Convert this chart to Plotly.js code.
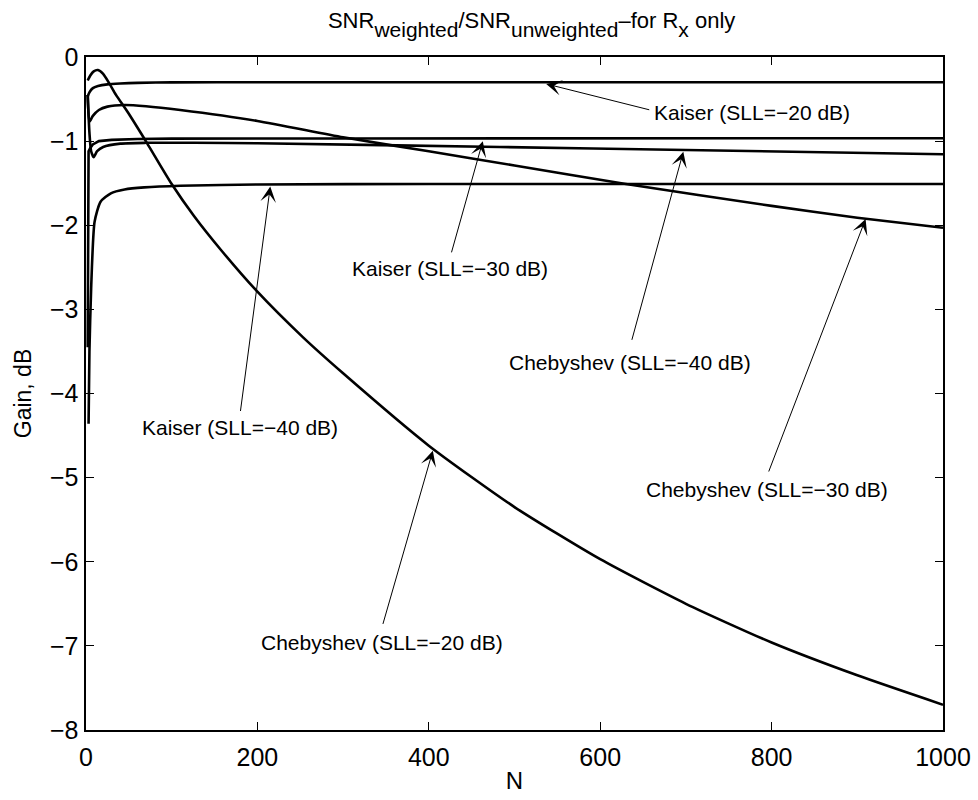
<!DOCTYPE html>
<html>
<head>
<meta charset="utf-8">
<script src="https://cdn.plot.ly/plotly-3.0.1.min.js"></script>
<style>
  html, body { margin: 0; padding: 0; background: #fff; }
  #chart { width: 978px; height: 800px; }
</style>
</head>
<body>
<div id="chart"></div>
<script>
// ---- Data (N, gain in dB) ----
const kaiser20N = [2, 4, 8, 14, 25, 40, 60, 100, 200, 400, 600, 800, 1000];
const kaiser20G = [-0.47, -0.42, -0.37, -0.345, -0.325, -0.315, -0.307, -0.302, -0.300, -0.300, -0.300, -0.300, -0.300];

const kaiser30N = [2, 3, 5, 8, 15, 30, 60, 100, 300, 600, 1000];
const kaiser30G = [-3.45, -1.12, -1.08, -1.04, -1.00, -0.985, -0.975, -0.97, -0.968, -0.967, -0.966];

const kaiser40N = [3, 4, 6, 10, 17, 29, 45, 68, 110, 200, 400, 700, 1000];
const kaiser40G = [-4.36, -3.50, -2.75, -1.96, -1.72, -1.62, -1.575, -1.55, -1.53, -1.515, -1.51, -1.51, -1.51];

const cheb20N = [2, 5, 9, 14, 20, 27, 35, 49, 71, 100, 126, 158, 200, 253, 300, 400, 500, 600, 700, 800, 900, 1000];
const cheb20G = [-0.28, -0.22, -0.17, -0.155, -0.20, -0.31, -0.45, -0.66, -1.02, -1.51, -1.89, -2.30, -2.79, -3.33, -3.76, -4.62, -5.35, -5.97, -6.50, -6.96, -7.35, -7.70];

const cheb30N = [2, 4, 8, 15, 25, 45, 70, 110, 200, 300, 400, 500, 630, 800, 900, 1000];
const cheb30G = [-0.45, -0.77, -0.70, -0.63, -0.59, -0.57, -0.585, -0.63, -0.76, -0.955, -1.12, -1.29, -1.51, -1.77, -1.91, -2.03];

const cheb40N = [2, 4, 6, 9, 13, 20, 40, 70, 126, 200, 483, 700, 1000];
const cheb40G = [-0.45, -0.90, -1.12, -1.19, -1.12, -1.07, -1.03, -1.02, -1.02, -1.025, -1.07, -1.105, -1.156];

const xTicks = [0, 200, 400, 600, 800, 1000];
const yTicks = [0, -1, -2, -3, -4, -5, -6, -7, -8];

const labels = {
  k20: 'Kaiser (SLL=\u221220 dB)',
  k30: 'Kaiser (SLL=\u221230 dB)',
  k40: 'Kaiser (SLL=\u221240 dB)',
  c20: 'Chebyshev (SLL=\u221220 dB)',
  c30: 'Chebyshev (SLL=\u221230 dB)',
  c40: 'Chebyshev (SLL=\u221240 dB)'
};

// ---- Traces ----
const lineStyle = { color: '#000', width: 2.6 };
function trace(x, y, name, shape) {
  return { x: x, y: y, name: name, mode: 'lines', type: 'scatter',
           line: Object.assign({ shape: shape || 'spline', smoothing: 0.6 }, lineStyle),
           hoverinfo: 'skip', showlegend: false };
}
const data = [
  trace(kaiser20N, kaiser20G, labels.k20),
  trace(kaiser30N, kaiser30G, labels.k30, 'linear'),
  trace(kaiser40N, kaiser40G, labels.k40),
  trace(cheb20N, cheb20G, labels.c20),
  trace(cheb30N, cheb30G, labels.c30),
  trace(cheb40N, cheb40G, labels.c40)
];

// ---- Annotations: arrows (tip -> tail) and their texts ----
const F = 'Liberation Sans, Arial, Helvetica, sans-serif';
function arrow(tx, ty, ax, ay) {
  return { x: tx, y: ty, ax: ax, ay: ay, xref: 'x', yref: 'y', axref: 'x', ayref: 'y',
           text: '', showarrow: true, arrowhead: 3, arrowsize: 2.6, arrowwidth: 1,
           arrowcolor: '#000', standoff: 0, startstandoff: 0 };
}
function label(x, y, text, xanchor) {
  return { x: x, y: y, xref: 'x', yref: 'y', text: text, showarrow: false,
           xanchor: xanchor || 'center', yanchor: 'middle',
           font: { family: F, size: 21, color: '#000' } };
}
const annotations = [
  arrow(537, -0.32, 659, -0.632),   label(660, -0.655, labels.k20, 'left'),
  arrow(463, -1.0, 426, -2.34),     label(425, -2.516, labels.k30),
  arrow(697, -1.125, 636.5, -3.38), label(634.5, -3.635, labels.c40),
  arrow(215, -1.54, 180, -4.226),   label(179.4, -4.406, labels.k40),
  arrow(909.7, -1.925, 796, -4.945),label(795, -5.14, labels.c30),
  arrow(404.7, -4.68, 346, -6.757), label(345, -6.963, labels.c20)
];

// subscripts drawn almost full size, shifted below the baseline
const sub = s => '<span style="baseline-shift:-0.45em;font-size:21px">' + s + '</span>';

const axisCommon = {
  showline: true, linecolor: '#000', linewidth: 1.6, mirror: 'ticks',
  ticks: 'inside', ticklen: 8, tickwidth: 1.2, tickcolor: '#000',
  showgrid: false, zeroline: false,
  tickfont: { family: F, size: 25, color: '#000' }
};

const layout = {
  width: 978, height: 800,
  margin: { l: 86, r: 35, t: 57, b: 70, pad: 0 },
  paper_bgcolor: '#fff', plot_bgcolor: '#fff',
  font: { family: F, color: '#000' },
  title: {
    text: 'SNR' + sub('weighted') + '/SNR' + sub('unweighted') + '\u2013for R' + sub('x') + ' only',
    font: { family: F, size: 22, color: '#000' },
    x: 0.52, xref: 'paper', xanchor: 'center',
    y: 0.975, yref: 'container', yanchor: 'middle'
  },
  xaxis: Object.assign({}, axisCommon, {
    range: [0, 1000], tickvals: xTicks, ticktext: xTicks.map(String),
    ticklabelstandoff: 4,
    title: { text: 'N', font: { family: F, size: 24, color: '#000' }, standoff: 2 }
  }),
  yaxis: Object.assign({}, axisCommon, {
    range: [-8, 0], tickvals: yTicks,
    ticklabelstandoff: 1,
    title: { text: 'Gain, dB', font: { family: F, size: 23, color: '#000' }, standoff: 12 }
  }),
  annotations: annotations,
  showlegend: false
};

Plotly.newPlot('chart', data, layout, { staticPlot: true, displayModeBar: false });
</script>
</body>
</html>
